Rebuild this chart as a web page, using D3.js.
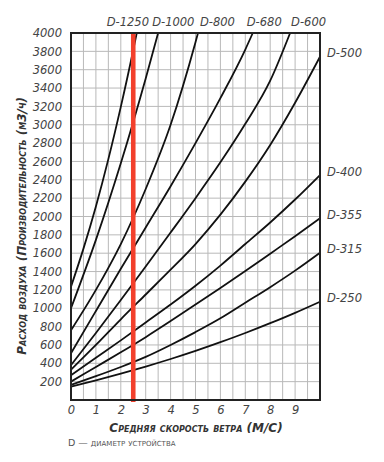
<!DOCTYPE html>
<html><head><meta charset="utf-8">
<script src="https://cdn.jsdelivr.net/npm/d3@7"></script>
<style>
html,body{margin:0;padding:0;background:#fff;}
svg{display:block;}
text{font-family:"DejaVu Sans",Verdana,sans-serif;}
</style></head>
<body>
<svg id="chart" width="384" height="462"></svg>
<script>
// ---- data ----
const seriesNames = ["D-1250","D-1000","D-800","D-680","D-600","D-500","D-400","D-355","D-315","D-250"];
const speedD1250 = [0,0.5,1,1.5,2,2.5,2.64];
const flowD1250  = [1235,1650,2110,2625,3195,3815,4000];
const speedD1000 = [0,1,2,3,3.5];
const flowD1000  = [1000,1745,2580,3505,4000];
const speedD800  = [0,1,2,3,4,5,5.1];
const flowD800   = [760,1200,1700,2300,3000,3900,4000];
const speedD680  = [0,1,2,3,4,5,6,7,7.3];
const flowD680   = [510,970,1430,1880,2330,2800,3290,3820,4000];
const speedD600  = [0,1,2,3,4,5,6,7,8,8.8];
const flowD600   = [380,730,1090,1455,1825,2200,2590,3010,3480,4000];
const speedFull  = [0,1,2,3,4,5,6,7,8,9,10];
const flowD500   = [330,600,880,1150,1420,1700,2020,2380,2780,3240,3742];
const flowD400   = [270,460,650,845,1040,1245,1465,1700,1935,2185,2452];
const flowD355   = [200,360,520,685,860,1040,1220,1405,1595,1785,1980];
const flowD315   = [165,260,360,470,600,740,890,1060,1230,1410,1605];
const flowD250   = [145,215,288,365,447,535,630,730,837,950,1071];
const redSpeed   = 2.5;
const xTicks = [0,1,2,3,4,5,6,7,8,9];
const yTicks = [200,400,600,800,1000,1200,1400,1600,1800,2000,2200,2400,2600,2800,3000,3200,3400,3600,3800,4000];
const xTitle = "Средняя скорость ветра (М/С)";
const yTitle = "Расход воздуха (Производительность (м3/ч)";
const noteText = "D — диаметр устройства";

const seriesX = [speedD1250,speedD1000,speedD800,speedD680,speedD600,speedFull,speedFull,speedFull,speedFull,speedFull];
const seriesY = [flowD1250,flowD1000,flowD800,flowD680,flowD600,flowD500,flowD400,flowD355,flowD315,flowD250];
const series = seriesNames.map((n,i)=>({name:n, pts: seriesX[i].map((v,j)=>[v, seriesY[i][j]])}));

// ---- layout ----
const L=71, R=320, T=33, B=400;
const svg = d3.select("#chart");
const x = d3.scaleLinear().domain([0,10]).range([L,R]);
const y = d3.scaleLinear().domain([0,4000]).range([B,T]);

// grid
const g = svg.append("g");
g.selectAll("line.vx").data(d3.range(0,10.01,0.5)).join("line")
  .attr("x1",d=>x(d)).attr("x2",d=>x(d)).attr("y1",T).attr("y2",B)
  .attr("stroke","#b9b9b9").attr("stroke-width",1);
g.selectAll("line.hy").data(d3.range(0,4001,200)).join("line")
  .attr("x1",L).attr("x2",R).attr("y1",d=>y(d)).attr("y2",d=>y(d))
  .attr("stroke","#b9b9b9").attr("stroke-width",1);

// curves
const line = d3.line().x(d=>x(d[0])).y(d=>y(d[1])).curve(d3.curveMonotoneX);
svg.append("g").selectAll("path").data(series).join("path")
  .attr("d",d=>line(d.pts)).attr("fill","none")
  .attr("stroke","#111").attr("stroke-width",1.8);

// red line
svg.append("line").attr("x1",x(redSpeed)).attr("x2",x(redSpeed))
  .attr("y1",T).attr("y2",B+2).attr("stroke","#f2402c").attr("stroke-width",4.6);

// frame
svg.append("rect").attr("x",L).attr("y",T).attr("width",R-L).attr("height",B-T)
  .attr("fill","none").attr("stroke","#222").attr("stroke-width",2);

// axes (labels only)
const yAxis = d3.axisLeft(y).tickValues(yTicks).tickFormat(d3.format("d")).tickSize(0).tickPadding(9);
const ya = svg.append("g").attr("transform",`translate(${L},0)`).call(yAxis);
ya.select(".domain").remove();
ya.selectAll("text").attr("font-size",11.5).attr("font-style","italic")
  .attr("fill","#444").attr("font-family","DejaVu Sans");
const xAxis = d3.axisBottom(x).tickValues(xTicks).tickFormat(d3.format("d")).tickSize(0).tickPadding(6);
const xa = svg.append("g").attr("transform",`translate(0,${B})`).call(xAxis);
xa.select(".domain").remove();
xa.selectAll("text").attr("font-size",11.5).attr("font-style","italic")
  .attr("fill","#444").attr("font-family","DejaVu Sans");

// curve labels
const topOffsets = {"D-1250":-30,"D-1000":-6,"D-800":2,"D-680":-6,"D-600":1};
series.forEach(s=>{
  const last = s.pts[s.pts.length-1];
  const px = x(last[0]), py = y(last[1]);
  const t = svg.append("text").text(s.name)
    .attr("font-size",11.5).attr("font-style","italic").attr("fill","#444");
  if (last[1] >= 4000) {
    t.attr("x",px+topOffsets[s.name]).attr("y",T-7);
  } else {
    t.attr("x",R+7).attr("y",py-3).attr("dominant-baseline","middle");
  }
});

// titles
svg.append("text").text(xTitle)
  .attr("x",196).attr("y",432).attr("text-anchor","middle")
  .attr("font-size",12).attr("font-weight","bold").attr("font-style","italic")
  .attr("font-variant","small-caps").attr("fill","#333");
svg.append("text").text(yTitle)
  .attr("transform","translate(26,226) rotate(-90)").attr("text-anchor","middle")
  .attr("font-size",12).attr("font-weight","bold").attr("font-style","italic")
  .attr("font-variant","small-caps").attr("fill","#333");
svg.append("text").text(noteText)
  .attr("x",68).attr("y",446).attr("font-size",9.5)
  .attr("font-variant","small-caps").attr("fill","#555");
</script>
</body></html>
